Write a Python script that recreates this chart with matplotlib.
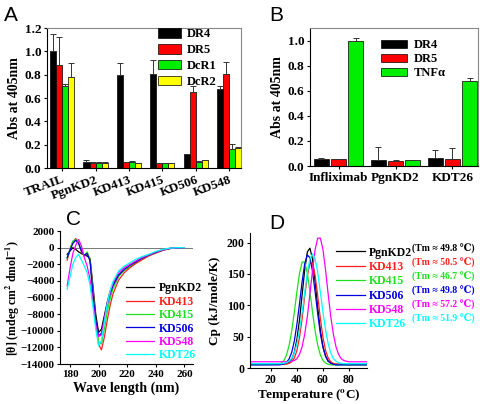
import matplotlib
matplotlib.use("Agg")
import matplotlib.pyplot as plt
import numpy as np

plt.rcParams["font.family"] = ["Liberation Serif", "DejaVu Serif", "DejaVu Sans"]
plt.rcParams["font.weight"] = "bold"
plt.rcParams["axes.labelweight"] = "bold"
plt.rcParams["mathtext.fontset"] = "stix"
plt.rcParams["font.size"] = 9.5

# ---- Panel A: binding to TRAIL receptors ----
a_groups = ["TRAIL", "PgnKD2", "KD413", "KD415", "KD506", "KD548"]
a_series = ["DR4", "DR5", "DcR1", "DcR2"]
a_dr4 = [1.00, 0.05, 0.80, 0.81, 0.12, 0.68]
a_dr5 = [0.88, 0.045, 0.05, 0.04, 0.65, 0.81]
a_dcr1 = [0.70, 0.045, 0.05, 0.04, 0.055, 0.16]
a_dcr2 = [0.78, 0.045, 0.045, 0.04, 0.065, 0.17]
a_dr4_err = [0.15, 0.015, 0.10, 0.12, 0.0, 0.02]
a_dr5_err = [0.24, 0.003, 0.005, 0.003, 0.055, 0.10]
a_dcr1_err = [0.02, 0.003, 0.008, 0.003, 0.003, 0.045]
a_dcr2_err = [0.12, 0.003, 0.0, 0.003, 0.003, 0.01]
a_colors = ["black", "#ff0000", "#00ee00", "#ffff00"]

# ---- Panel B: binding to TNF receptor ----
b_groups = ["Infliximab", "PgnKD2", "KDT26"]
b_series = ["DR4", "DR5", "TNFα"]
b_dr4 = [0.06, 0.05, 0.065]
b_dr5 = [0.055, 0.04, 0.06]
b_tnf = [1.00, 0.045, 0.68]
b_dr4_err = [0.004, 0.105, 0.065]
b_dr5_err = [0.005, 0.005, 0.08]
b_tnf_err = [0.02, 0.005, 0.02]
b_colors = ["black", "#ff0000", "#00ee00"]

# ---- Panel C: CD spectra ----
c_names = ["PgnKD2", "KD413", "KD415", "KD506", "KD548", "KDT26"]
c_colors = ["black", "#ff2020", "#20e020", "#0000e0", "#ff00ff", "#00ffff"]
c_wl = [178, 180, 182, 184, 186, 188, 190, 192, 194, 196, 198, 200, 202, 204,
        206, 208, 210, 214, 218, 222, 226, 230, 235, 240, 245, 250, 255, 260]
c_pgnkd2 = [-800, -400, 0, -200, -500, -700, -900, -1000, -1300, -4500, -8000,
            -10200, -9800, -8200, -6600, -5300, -4400, -3300, -2700, -2200,
            -1800, -1300, -900, -600, -300, -100, 0, 0]
c_kd413 = [-1500, -200, 700, 1100, 700, -500, -1000, -600, -1500, -5000, -8800,
           -11600, -12300, -10800, -8800, -7000, -5600, -3900, -3000, -2400,
           -1900, -1500, -1000, -650, -300, -100, 0, 0]
c_kd415 = [-1300, -100, 800, 1000, 600, -400, -900, -500, -1400, -5200, -9000,
           -11400, -11600, -9800, -7800, -6200, -5000, -3500, -2700, -2200,
           -1700, -1300, -900, -550, -250, -80, 0, 0]
c_kd506 = [-1200, -300, 500, 900, 500, -400, -900, -700, -1600, -5500, -8800,
           -10600, -10300, -8600, -6900, -5600, -4600, -3300, -2600, -2100,
           -1700, -1300, -900, -550, -250, -80, 0, 0]
c_kd548 = [-4600, -2500, -700, 300, 1000, 200, -1200, -2200, -3800, -6500, -9300,
           -10700, -10500, -8600, -6700, -5300, -4300, -3000, -2400, -2000,
           -1600, -1200, -850, -500, -250, -80, 0, 0]
c_kdt26 = [-5000, -3500, -2000, -1200, -800, -1500, -2200, -3000, -4500, -7000,
           -9800, -11800, -11200, -9000, -6800, -5200, -4100, -2800, -2200,
           -1800, -1400, -1100, -800, -450, -200, -50, 0, 0]

# ---- Panel D: DSC thermograms ----
d_tm = ["49.8", "50.5", "46.7", "49.8", "57.2", "51.9"]
d_temp = [4, 26, 28, 30, 32, 34, 36, 38, 40, 42, 44, 46, 48, 50, 52, 54, 56, 58,
          60, 62, 64, 66, 68, 70, 72, 74, 76, 78, 80, 94]
d_pgnkd2 = [6, 6, 6, 6.3, 7, 9, 14, 25, 46, 77, 117, 157, 185, 191, 173, 137, 96,
            60, 34, 19, 11, 8, 6.5, 6, 6, 6, 6, 6, 6, 6]
d_kd413 = [6, 6, 6, 6, 6.4, 7.4, 10, 16, 28, 49, 79, 115, 147, 167, 167, 147, 115,
           79, 49, 28, 16, 10, 7.4, 6.4, 6, 6, 6, 6, 6, 6]
d_kd415 = [5, 6, 8, 12, 21, 36, 59, 89, 122, 151, 169, 169, 151, 122, 89, 59, 36,
           21, 12, 8, 6, 5, 5, 5, 5, 5, 5, 5, 5, 5]
d_kd506 = [5, 5, 5.5, 6.5, 9, 14.5, 25, 43, 70, 103, 138, 166, 180, 176, 154, 121,
           86, 55, 33, 19, 11, 7.5, 6, 5, 5, 5, 5, 5, 5, 5]
d_kd548 = [10, 10, 10, 10, 10, 10, 10.8, 12, 15, 22, 34, 54, 82, 118, 156, 189,
           207, 207, 189, 156, 118, 82, 54, 34, 22, 15, 12, 10.8, 10, 10]
d_kdt26 = [7, 7, 7, 7.6, 8.5, 11, 15, 24, 39, 61, 89, 121, 152, 174, 182, 174,
           152, 121, 89, 61, 39, 24, 15, 11, 8.5, 7.6, 7, 7, 7, 7]

fig = plt.figure(figsize=(4.8, 4.04), dpi=100)


def style_box(ax):
    for side in ("top", "right"):
        ax.spines[side].set_color("#888888")
    for side in ("left", "bottom"):
        ax.spines[side].set_color("black")
    ax.tick_params(direction="out", length=2.5, width=0.8, pad=1.5)


def grouped_bars(ax, values, errors, colors, labels, width, step):
    n = len(values)
    x = np.arange(len(values[0]))
    for i in range(n):
        pos = x + (i - (n - 1) / 2) * step
        ax.bar(pos, values[i], width, color=colors[i], edgecolor="black",
               linewidth=0.5, label=labels[i], zorder=2)
        ax.errorbar(pos, values[i], yerr=[np.zeros(len(x)), errors[i]],
                    fmt="none", ecolor="#333333", elinewidth=0.7,
                    capsize=2, capthick=0.7, zorder=3)
    return x


# Panel A
ax = fig.add_axes([0.098, 0.584, 0.404, 0.3465])
x = grouped_bars(ax, [a_dr4, a_dr5, a_dcr1, a_dcr2],
                 [a_dr4_err, a_dr5_err, a_dcr1_err, a_dcr2_err],
                 a_colors, a_series, 0.18, 0.18)
ax.set_xlim(-0.45, 5.35)
ax.set_ylim(0, 1.2)
ax.set_yticks(np.arange(0, 1.21, 0.2))
ax.yaxis.set_major_formatter(matplotlib.ticker.FormatStrFormatter("%.1f"))
ax.set_xticks(x)
ax.set_xticklabels(a_groups, rotation=20, ha="right", rotation_mode="anchor")
ax.tick_params(axis="x", length=0)
ax.set_ylabel("Abs at 405nm", fontsize=10, labelpad=3)
style_box(ax)
ax.legend(loc="upper left", bbox_to_anchor=(0.515, 1.08), frameon=False,
          handlelength=1.8, handleheight=0.8, handletextpad=0.5,
          labelspacing=0.3, fontsize=9)
fig.text(0.008, 0.985, "A", family="Liberation Sans", weight="normal",
         fontsize=15, va="top")

# Panel B
ax = fig.add_axes([0.646, 0.589, 0.35, 0.3416])
x = grouped_bars(ax, [b_dr4, b_dr5, b_tnf], [b_dr4_err, b_dr5_err, b_tnf_err],
                 b_colors, b_series, 0.26, 0.3)
ax.set_xlim(-0.5, 2.45)
ax.set_ylim(0, 1.1)
ax.set_yticks(np.arange(0, 1.01, 0.2))
ax.yaxis.set_major_formatter(matplotlib.ticker.FormatStrFormatter("%.1f"))
ax.set_xticks(x)
ax.set_xticklabels(b_groups)
ax.tick_params(axis="x", length=0, pad=6)
ax.set_ylabel("Abs at 405nm", fontsize=10, labelpad=3)
style_box(ax)
ax.legend(loc="upper left", bbox_to_anchor=(0.355, 1.0), frameon=False,
          handlelength=2.1, handleheight=0.6, handletextpad=0.5,
          labelspacing=0.15, fontsize=9)
fig.text(0.56, 0.985, "B", family="Liberation Sans", weight="normal",
         fontsize=15, va="top")

# Panel C
ax = fig.add_axes([0.125, 0.099, 0.277, 0.329])
for name, color, vals in zip(c_names, c_colors,
                             [c_pgnkd2, c_kd413, c_kd415, c_kd506, c_kd548,
                              c_kdt26]):
    ax.plot(c_wl, vals, color=color, linewidth=0.9, label=name)
ax.axhline(0, color="#777777", linewidth=0.7, zorder=0)
ax.set_xlim(173, 266)
ax.set_ylim(-14000, 2000)
ax.set_xticks([180, 200, 220, 240, 260])
ax.set_yticks(np.arange(-14000, 2001, 2000))
ax.spines["top"].set_visible(False)
ax.spines["right"].set_visible(False)
ax.tick_params(direction="out", length=2.5, width=0.8, pad=1.5, labelsize=8)
ax.set_xlabel("Wave length (nm)", fontsize=10, labelpad=2)
ax.set_ylabel(r"[θ] (mdeg cm$\mathbf{^{2}}$ dmol$\mathbf{^{-1}}$)",
              fontsize=8.5)
ax.yaxis.set_label_coords(-0.285, 0.5)
leg = ax.legend(loc="upper left", bbox_to_anchor=(0.46, 0.65), frameon=False,
                handlelength=2.4, handletextpad=0.4, labelspacing=0.12,
                fontsize=8.5, borderaxespad=0)
for txt, line in zip(leg.get_texts(), leg.get_lines()):
    txt.set_color(line.get_color())
fig.text(0.138, 0.48, "C", family="Liberation Sans", weight="normal",
         fontsize=15, va="top")

# Panel D
ax = fig.add_axes([0.521, 0.089, 0.244, 0.334])
for name, color, vals in zip(c_names, c_colors,
                             [d_pgnkd2, d_kd413, d_kd415, d_kd506, d_kd548,
                              d_kdt26]):
    ax.plot(d_temp, vals, color=color, linewidth=0.9, label=name)
ax.set_xlim(4, 94)
ax.set_ylim(0, 215)
ax.set_xticks([20, 40, 60, 80])
ax.set_yticks([0, 50, 100, 150, 200])
ax.spines["top"].set_visible(False)
ax.spines["right"].set_visible(False)
ax.tick_params(direction="out", length=2.5, width=0.8, pad=1.5, labelsize=8.5)
ax.set_xlabel(r"Temperature ($\mathbf{^{o}}$C)", fontsize=9.5, labelpad=1)
ax.set_ylabel("Cp (kJ/mole/K)", fontsize=9.5)
leg = ax.legend(loc="upper left", bbox_to_anchor=(0.69, 0.935), frameon=False,
                handlelength=2.5, handletextpad=0.3, labelspacing=0.2,
                fontsize=8.5, borderaxespad=0)
for i, (txt, line, tm) in enumerate(zip(leg.get_texts(), leg.get_lines(), d_tm)):
    txt.set_color(line.get_color())
    # rows of the legend sit about 14 px apart (0.104 of the axes height)
    ax.text(1.385, 0.881 - i * 0.104, f"(Tm ≈ {tm} ℃)", transform=ax.transAxes,
            va="center", ha="left", fontsize=7, color=line.get_color(),
            clip_on=False)
fig.text(0.56, 0.47, "D", family="Liberation Sans", weight="normal",
         fontsize=15, va="top")

fig.savefig("out.png", dpi=100)
